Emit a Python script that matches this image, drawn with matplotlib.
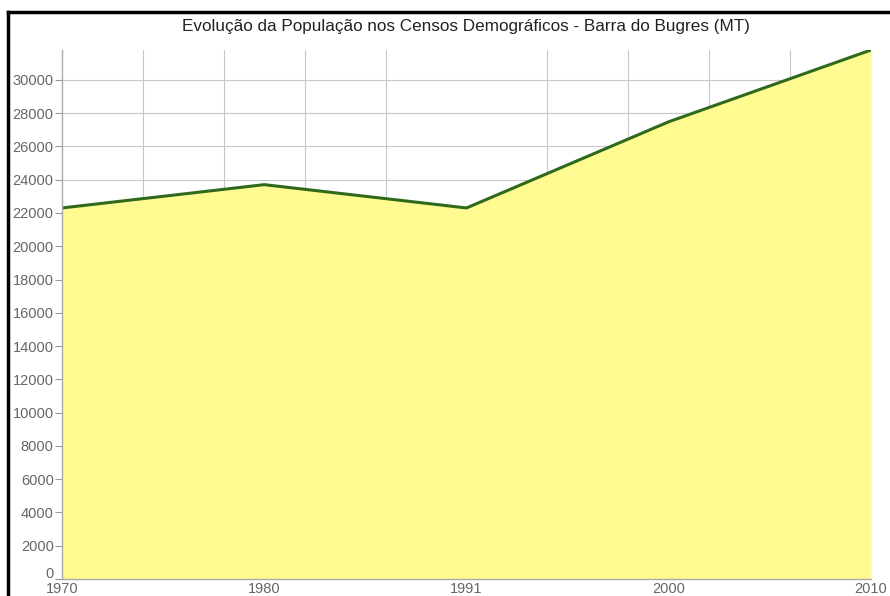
import numpy as np
import matplotlib.pyplot as plt
from matplotlib.lines import Line2D
from matplotlib.transforms import offset_copy

anos = ['1970', '1980', '1991', '2000', '2010']
populacao = [22300, 23700, 22300, 27480, 31793]
yticks = list(range(0, 30001, 2000))

plt.rcParams['font.family'] = ['Liberation Sans', 'DejaVu Sans']

fig = plt.figure(figsize=(8.9, 5.96), dpi=100)
ax = fig.add_axes([62/890, 1 - 579/596, (871 - 62)/890, (579 - 50)/596])

x = np.arange(len(anos))
ax.fill_between(x, populacao, 0, color='#fffb91', linewidth=0, zorder=2)
ax.plot(x, populacao, color='#2f6a1c', linewidth=2.2, zorder=3, solid_capstyle='round')

ax.set_xlim(0, len(anos) - 1)
ax.set_ylim(0, max(populacao))
ax.set_xticks(x)
ax.set_xticklabels(anos)
ax.set_xticks(np.arange(0, len(anos) - 1 + 0.01, 0.4), minor=True)
ax.set_yticks(yticks)
ax.set_yticklabels([str(v) for v in yticks])

ax.grid(True, which='minor', axis='x', color='#c8c8c8', linewidth=0.8, zorder=1)
ax.grid(True, which='major', axis='y', color='#c8c8c8', linewidth=0.8, zorder=1)
ax.set_axisbelow(True)

for s in ['top', 'right']:
    ax.spines[s].set_visible(False)
for s in ['left', 'bottom']:
    ax.spines[s].set_color('#aaaaaa')
    ax.spines[s].set_linewidth(1)
    ax.spines[s].set_zorder(4)

ax.tick_params(axis='y', which='major', length=5, width=0.8, color='#999999',
               labelcolor='#666666', labelsize=10.5, pad=1)
ax.tick_params(axis='x', which='major', length=0, labelcolor='#666666', labelsize=10.5, pad=2)
ax.tick_params(axis='x', which='minor', length=0)
# o "0" fica logo acima do rotulo 1970
zero = ax.get_yticklabels()[0]
zero.set_verticalalignment('bottom')
zero.set_transform(offset_copy(zero.get_transform(), fig=fig, y=-2, units='dots'))

fig.text(466/890, 1 - 27/596, 'Evolução da População nos Censos Demográficos - Barra do Bugres (MT)',
         ha='center', va='center', fontsize=12.3, color='#222222')

# moldura preta
fig.add_artist(Line2D([8/890, 8/890], [0, 1 - 12/596], color='black', linewidth=2.5))
fig.add_artist(Line2D([8/890, 1], [1 - 12/596, 1 - 12/596], color='black', linewidth=2.5))

fig.savefig('out.png', dpi=100)
